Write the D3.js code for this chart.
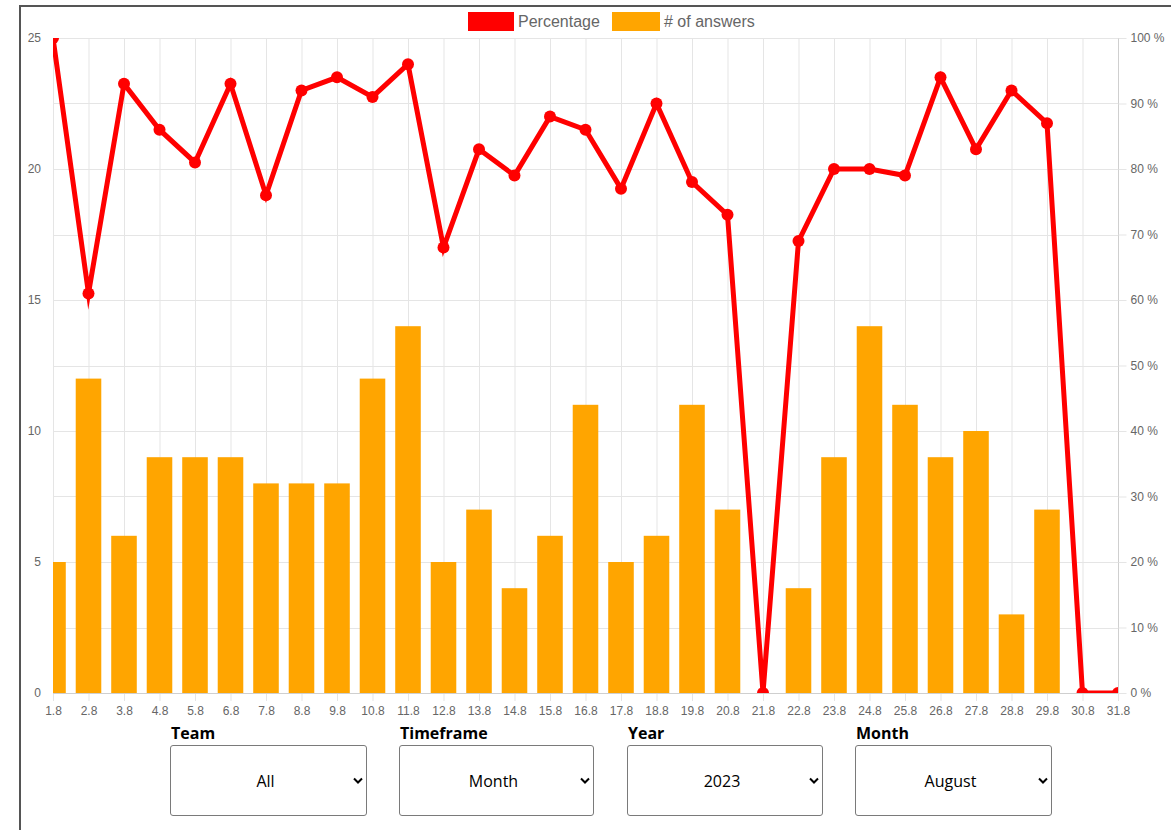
<!DOCTYPE html>
<html>
<head>
<meta charset="utf-8">
<script src="https://cdn.jsdelivr.net/npm/d3@7"></script>
<style>
  html, body { margin: 0; padding: 0; background: #fff; }
  body { width: 1171px; height: 830px; position: relative; overflow: hidden; }
  #frame { position: absolute; left: 19px; top: 5px; width: 1200px; height: 900px;
           border: 2px solid #555; box-sizing: border-box; }
  #chart { position: absolute; left: 0; top: 0; }
  .ctl-label { position: absolute; font-family: "Open Sans", sans-serif; font-weight: bold;
               font-size: 16px; line-height: 20px; color: #000; }
  .ctl { position: absolute; height: 71px; }
  .ctl select { width: 100%; height: 100%; appearance: none; -webkit-appearance: none;
                background: #fff; border: 1px solid #7a7a7a; border-radius: 3px;
                font-family: "Open Sans", sans-serif; font-size: 16px; color: #000;
                text-align: center; text-align-last: center; padding: 0 6px 0 0; margin: 0; }
  .ctl svg { position: absolute; top: 32px; pointer-events: none; }
</style>
</head>
<body>
<div id="frame"></div>
<div id="wrap"></div>
<script>
// chart data
const days = ["1.8","2.8","3.8","4.8","5.8","6.8","7.8","8.8","9.8","10.8","11.8","12.8","13.8","14.8","15.8","16.8",
              "17.8","18.8","19.8","20.8","21.8","22.8","23.8","24.8","25.8","26.8","27.8","28.8","29.8","30.8","31.8"];
const answers = [5,12,6,9,9,9,8,8,8,12,14,5,7,4,6,11,5,6,11,7,0,4,9,14,11,9,10,3,7,0,0];
const percentage = [100,61,93,86,81,93,76,92,94,91,96,68,83,79,88,86,77,90,78,73,0,69,80,80,79,94,83,92,87,0,0];
const leftTicks = [0,5,10,15,20,25];
const rightTicks = [0,10,20,30,40,50,60,70,80,90,100];

const controls = [
  { label: "Team", value: "All", left: 170, width: 197 },
  { label: "Timeframe", value: "Month", left: 399, width: 195 },
  { label: "Year", value: "2023", left: 627, width: 196 },
  { label: "Month", value: "August", left: 855, width: 197 }
];

const width = 1171, height = 830;
const plot = { left: 53, right: 1118, top: 38, bottom: 693 };

const svg = d3.select("#wrap").append("svg")
  .attr("id", "chart")
  .attr("width", width)
  .attr("height", height);

const x = d3.scalePoint().domain(days).range([plot.left, plot.right]).padding(0);
const yLeft = d3.scaleLinear().domain([0, 25]).range([plot.bottom, plot.top]);
const yRight = d3.scaleLinear().domain([0, 100]).range([plot.bottom, plot.top]);
const step = x.step();
const barWidth = step * 0.8 * 0.9;

const gridColor = "#e5e5e5";
const tickFont = "'Liberation Sans', Arial, sans-serif";

// clip to plot area
svg.append("defs").append("clipPath").attr("id", "plotClip")
  .append("rect")
  .attr("x", plot.left).attr("y", plot.top)
  .attr("width", plot.right - plot.left).attr("height", plot.bottom - plot.top);

// vertical grid + tick marks
svg.append("g").selectAll("line")
  .data(days)
  .join("line")
  .attr("x1", d => x(d) + 0.5).attr("x2", d => x(d) + 0.5)
  .attr("y1", plot.top).attr("y2", plot.bottom + 8)
  .attr("stroke", gridColor);

// horizontal grid (from right axis)
svg.append("g").selectAll("line")
  .data(rightTicks)
  .join("line")
  .attr("x1", plot.left).attr("x2", plot.right)
  .attr("y1", d => Math.round(yRight(d)) + 0.5).attr("y2", d => Math.round(yRight(d)) + 0.5)
  .attr("stroke", gridColor);

// left axis
const gLeft = svg.append("g")
  .attr("transform", `translate(${plot.left},0)`)
  .call(d3.axisLeft(yLeft).tickValues(leftTicks).tickSize(0).tickPadding(12));
gLeft.select(".domain").remove();

// right axis
const gRight = svg.append("g")
  .attr("transform", `translate(${plot.right + 0.5},0)`)
  .call(d3.axisRight(yRight).tickValues(rightTicks).tickSize(8).tickPadding(4)
    .tickFormat(d => d + " %"));
gRight.select(".domain").attr("stroke", "#cfcfcf").attr("d", `M0,${plot.top}V${plot.bottom}`);
gRight.selectAll(".tick line").attr("stroke", gridColor);

// bottom axis
const gBottom = svg.append("g")
  .attr("transform", `translate(0,${plot.bottom + 0.5})`)
  .call(d3.axisBottom(x).tickSize(0).tickPadding(13));
gBottom.select(".domain").attr("stroke", "#cfcfcf").attr("d", `M${plot.left},0H${plot.right}`);

svg.selectAll(".tick text")
  .attr("fill", "#666")
  .style("font-family", tickFont)
  .style("font-size", "12px");

// bars
svg.append("g").attr("clip-path", "url(#plotClip)")
  .selectAll("rect")
  .data(answers)
  .join("rect")
  .attr("x", (d, i) => x(days[i]) - barWidth / 2)
  .attr("y", d => yLeft(d))
  .attr("width", barWidth)
  .attr("height", d => plot.bottom - yLeft(d))
  .attr("fill", "#FFA500");

// percentage line
const line = d3.line()
  .x((d, i) => x(days[i]))
  .y(d => yRight(d));

const gLine = svg.append("g").attr("clip-path", "url(#plotClip)");
gLine.append("path")
  .datum(percentage)
  .attr("d", line)
  .attr("fill", "none")
  .attr("stroke", "#ff0000")
  .attr("stroke-width", 5)
  .attr("stroke-linejoin", "miter")
  .attr("stroke-miterlimit", 10);

gLine.selectAll("circle")
  .data(percentage)
  .join("circle")
  .attr("cx", (d, i) => x(days[i]))
  .attr("cy", d => yRight(d))
  .attr("r", 6)
  .attr("fill", "#ff0000");

// legend
const legendItems = [
  { label: "Percentage", color: "#ff0000", x: 468, w: 46 },
  { label: "# of answers", color: "#FFA500", x: 612, w: 48 }
];
const legend = svg.append("g");
legend.selectAll("rect")
  .data(legendItems)
  .join("rect")
  .attr("x", d => d.x).attr("y", 12)
  .attr("width", d => d.w).attr("height", 19)
  .attr("fill", d => d.color);
legend.selectAll("text")
  .data(legendItems)
  .join("text")
  .attr("x", d => d.x + d.w + 4)
  .attr("y", 21.5)
  .attr("dy", "0.35em")
  .attr("fill", "#666")
  .style("font-family", tickFont)
  .style("font-size", "16px")
  .text(d => d.label);

// dropdowns
const wrap = d3.select("#wrap");
controls.forEach(c => {
  wrap.append("div")
    .attr("class", "ctl-label")
    .style("left", (c.left + 1) + "px")
    .style("top", "723px")
    .text(c.label);

  const box = wrap.append("div")
    .attr("class", "ctl")
    .style("left", c.left + "px")
    .style("top", "745px")
    .style("width", c.width + "px");

  box.append("select")
    .append("option")
    .text(c.value);

  const chev = box.append("svg")
    .attr("width", 10).attr("height", 8)
    .style("left", (c.width - 14) + "px");
  chev.append("path")
    .attr("d", "M1,1.5 L5,5.5 L9,1.5")
    .attr("fill", "none")
    .attr("stroke", "#000")
    .attr("stroke-width", 2);
});
</script>
</body>
</html>
